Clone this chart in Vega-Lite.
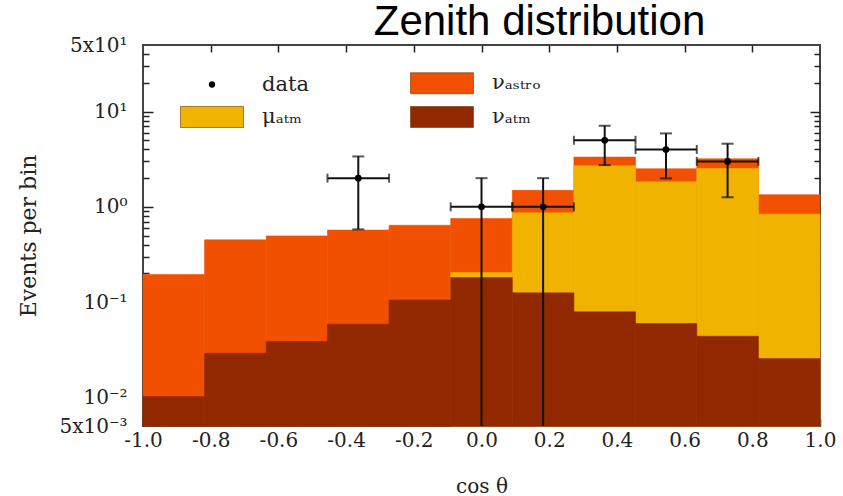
{
  "$schema": "https://vega.github.io/schema/vega-lite/v6.json",
  "width": 677,
  "height": 381,
  "autosize": {"type": "none"},
  "padding": {"left": 143, "top": 45, "right": 23, "bottom": 70},
  "background": "white",
  "title": {"text": "Zenith distribution", "font": "Liberation Sans", "fontSize": 42, "fontWeight": "normal", "color": "#000", "anchor": "middle", "dx": 58, "dy": 10, "offset": 1},
  "config": {
    "view": {"stroke": "#444", "strokeWidth": 2},
    "font": "DejaVu Serif",
    "axis": {"grid": false, "domain": false, "tickColor": "#222", "tickWidth": 1.5, "labelColor": "#222", "labelFont": "DejaVu Serif", "labelFontSize": 20, "titleFont": "DejaVu Serif", "titleFontWeight": "normal", "titleColor": "#222"}
  },
  "datasets": {
    "bins": [
      {"lo": -1.0, "hi": -0.818, "total": 0.195, "nu_atm": 0.0102},
      {"lo": -0.818, "hi": -0.636, "total": 0.45, "nu_atm": 0.029},
      {"lo": -0.636, "hi": -0.455, "total": 0.495, "nu_atm": 0.0386},
      {"lo": -0.455, "hi": -0.273, "total": 0.57, "nu_atm": 0.0586},
      {"lo": -0.273, "hi": -0.091, "total": 0.64, "nu_atm": 0.105},
      {"lo": -0.091, "hi": 0.091, "total": 0.755, "mu_top": 0.204, "nu_atm": 0.181},
      {"lo": 0.091, "hi": 0.273, "total": 1.49, "mu_top": 0.865, "nu_atm": 0.125},
      {"lo": 0.273, "hi": 0.455, "total": 3.33, "mu_top": 2.7, "nu_atm": 0.079},
      {"lo": 0.455, "hi": 0.636, "total": 2.51, "mu_top": 1.83, "nu_atm": 0.0596},
      {"lo": 0.636, "hi": 0.818, "total": 3.19, "mu_top": 2.53, "nu_atm": 0.0438},
      {"lo": 0.818, "hi": 1.0, "total": 1.34, "mu_top": 0.838, "nu_atm": 0.0255}
    ],
    "points": [
      {"c": -0.364, "lo": -0.455, "hi": -0.273, "n": 2, "elo": 0.58, "ehi": 3.38},
      {"c": 0.0, "lo": -0.091, "hi": 0.091, "n": 1, "elo": 0.005, "ehi": 2.0},
      {"c": 0.182, "lo": 0.091, "hi": 0.273, "n": 1, "elo": 0.005, "ehi": 2.0},
      {"c": 0.364, "lo": 0.273, "hi": 0.455, "n": 5, "elo": 2.74, "ehi": 7.1},
      {"c": 0.545, "lo": 0.455, "hi": 0.636, "n": 4, "elo": 1.99, "ehi": 5.9},
      {"c": 0.727, "lo": 0.636, "hi": 0.818, "n": 3, "elo": 1.26, "ehi": 4.6}
    ]
  },
  "resolve": {"axis": {"x": "independent", "y": "independent"}},
  "layer": [
    {
      "data": {"name": "bins"},
      "mark": {"type": "bar", "stroke": "#F05000", "strokeWidth": 0.6},
      "encoding": {
        "x": {"field": "lo", "type": "quantitative", "scale": {"domain": [-1, 1], "nice": false, "zero": false},
          "axis": {"orient": "bottom", "offset": -7, "tickSize": 7, "values": [-1, -0.8, -0.6, -0.4, -0.2, 0, 0.2, 0.4, 0.6, 0.8, 1], "labelExpr": "replace(format(datum.value, '.1f'), '\u2212', '-')", "labelPadding": 4, "labelFlush": false, "labelOverlap": false, "title": "cos \u03b8", "titleFontSize": 20, "titlePadding": 26}},
        "x2": {"field": "hi"},
        "y": {"field": "total", "type": "quantitative", "scale": {"type": "log", "domain": [0.005, 50], "nice": false},
          "axis": {"orient": "left", "ticks": false, "values": [0.005, 0.01, 0.1, 1, 10, 50], "labelPadding": 16, "labelFlush": false, "labelOverlap": false, "labelExpr": "datum.value == 50 ? '5x10\u00b9' : datum.value == 10 ? '10\u00b9' : datum.value == 1 ? '10\u2070' : datum.value == 0.1 ? '10\u207b\u00b9' : datum.value == 0.01 ? '10\u207b\u00b2' : '5x10\u207b\u00b3'", "title": "Events per bin", "titleFontSize": 22, "titlePadding": 18}},
        "y2": {"datum": 0.005},
        "fill": {"datum": "\u03bd\u2090\u209b\u209c\u1d63\u2092", "type": "nominal", "sort": null,
          "scale": {"domain": ["data", "\u03bc\u2090\u209c\u2098", "\u03bd\u2090\u209b\u209c\u1d63\u2092", "\u03bd\u2090\u209c\u2098"], "range": ["#000000", "#F0B400", "#F05000", "#922800"]},
          "legend": {"orient": "none", "legendX": 58, "legendY": 27, "columns": 2, "title": null, "padding": 0, "symbolType": "M-3,-1H3V1H-3Z", "symbolSize": 441, "symbolStrokeWidth": 1, "symbolStrokeColor": "#6a3a00", "labelFont": "DejaVu Serif", "labelFontSize": 21, "labelColor": "#222", "labelOffset": 39, "rowPadding": 8, "columnPadding": 99, "symbolOpacity": 1,
            "encode": {"symbols": {"update": {"shape": {"signal": "datum.value === 'data' ? 'circle' : 'M-3,-1H3V1H-3Z'"}, "size": {"signal": "datum.value === 'data' ? 40 : 441"}, "strokeOpacity": {"signal": "datum.value === 'data' ? 0 : 0.6"}}}}}}
      }
    },
    {
      "data": {"name": "bins"},
      "mark": {"type": "bar", "stroke": "#F0B400", "strokeWidth": 0.6},
      "encoding": {
        "x": {"field": "lo", "type": "quantitative", "axis": {"orient": "top", "offset": -7, "tickSize": 7, "labels": false, "values": [-0.8, -0.6, -0.4, -0.2, 0, 0.2, 0.4, 0.6, 0.8], "title": null}},
        "x2": {"field": "hi"},
        "y": {"field": "mu_top", "type": "quantitative", "axis": {"orient": "left", "offset": -10, "tickSize": 10, "labels": false, "values": [0.01, 0.1, 1, 10], "title": null}},
        "y2": {"datum": 0.005},
        "fill": {"datum": "\u03bc\u2090\u209c\u2098", "type": "nominal", "sort": null, "scale": {"domain": ["data", "\u03bc\u2090\u209c\u2098", "\u03bd\u2090\u209b\u209c\u1d63\u2092", "\u03bd\u2090\u209c\u2098"], "range": ["#000000", "#F0B400", "#F05000", "#922800"]}}
      }
    },
    {
      "data": {"name": "bins"},
      "mark": {"type": "bar", "stroke": "#922800", "strokeWidth": 0.6},
      "encoding": {
        "x": {"field": "lo", "type": "quantitative", "axis": null},
        "x2": {"field": "hi"},
        "y": {"field": "nu_atm", "type": "quantitative", "axis": {"orient": "left", "offset": -6, "tickSize": 6, "labels": false, "values": [0.006, 0.007, 0.008, 0.009, 0.02, 0.03, 0.04, 0.05, 0.06, 0.07, 0.08, 0.09, 0.2, 0.3, 0.4, 0.5, 0.6, 0.7, 0.8, 0.9, 2, 3, 4, 5, 6, 7, 8, 9, 20, 30, 40], "title": null}},
        "y2": {"datum": 0.005},
        "fill": {"datum": "\u03bd\u2090\u209c\u2098", "type": "nominal", "sort": null, "scale": {"domain": ["data", "\u03bc\u2090\u209c\u2098", "\u03bd\u2090\u209b\u209c\u1d63\u2092", "\u03bd\u2090\u209c\u2098"], "range": ["#000000", "#F0B400", "#F05000", "#922800"]}}
      }
    },
    {
      "data": {"name": "points"},
      "mark": {"type": "rule", "color": "#111", "strokeWidth": 2},
      "encoding": {
        "x": {"field": "c", "type": "quantitative", "axis": null},
        "y": {"field": "elo", "type": "quantitative", "axis": {"orient": "right", "offset": -10, "tickSize": 10, "labels": false, "values": [0.01, 0.1, 1, 10], "title": null}},
        "y2": {"field": "ehi"}
      }
    },
    {
      "data": {"name": "points"},
      "mark": {"type": "rule", "color": "#111", "strokeWidth": 2},
      "encoding": {
        "x": {"field": "lo", "type": "quantitative", "axis": null},
        "x2": {"field": "hi"},
        "y": {"field": "n", "type": "quantitative", "axis": {"orient": "right", "offset": -6, "tickSize": 6, "labels": false, "values": [0.006, 0.007, 0.008, 0.009, 0.02, 0.03, 0.04, 0.05, 0.06, 0.07, 0.08, 0.09, 0.2, 0.3, 0.4, 0.5, 0.6, 0.7, 0.8, 0.9, 2, 3, 4, 5, 6, 7, 8, 9, 20, 30, 40], "title": null}}
      }
    },
    {
      "data": {"name": "points"},
      "mark": {"type": "tick", "orient": "horizontal", "color": "#111", "thickness": 2, "size": 12},
      "encoding": {
        "x": {"field": "c", "type": "quantitative", "axis": null},
        "y": {"field": "ehi", "type": "quantitative", "axis": null}
      }
    },
    {
      "data": {"name": "points"},
      "transform": [{"filter": "datum.elo > 0.005"}],
      "mark": {"type": "tick", "orient": "horizontal", "color": "#111", "thickness": 2, "size": 12},
      "encoding": {
        "x": {"field": "c", "type": "quantitative", "axis": null},
        "y": {"field": "elo", "type": "quantitative", "axis": null}
      }
    },
    {
      "data": {"name": "points"},
      "mark": {"type": "tick", "orient": "vertical", "color": "#111", "thickness": 2, "size": 9},
      "encoding": {
        "x": {"field": "lo", "type": "quantitative", "axis": null},
        "y": {"field": "n", "type": "quantitative", "axis": null}
      }
    },
    {
      "data": {"name": "points"},
      "mark": {"type": "tick", "orient": "vertical", "color": "#111", "thickness": 2, "size": 9},
      "encoding": {
        "x": {"field": "hi", "type": "quantitative", "axis": null},
        "y": {"field": "n", "type": "quantitative", "axis": null}
      }
    },
    {
      "data": {"name": "points"},
      "mark": {"type": "point", "filled": true, "opacity": 1, "size": 45, "shape": "circle"},
      "encoding": {
        "x": {"field": "c", "type": "quantitative", "axis": null},
        "y": {"field": "n", "type": "quantitative", "axis": null},
        "fill": {"datum": "data", "type": "nominal", "sort": null, "scale": {"domain": ["data", "\u03bc\u2090\u209c\u2098", "\u03bd\u2090\u209b\u209c\u1d63\u2092", "\u03bd\u2090\u209c\u2098"], "range": ["#000000", "#F0B400", "#F05000", "#922800"]}}
      }
    }
  ]
}
